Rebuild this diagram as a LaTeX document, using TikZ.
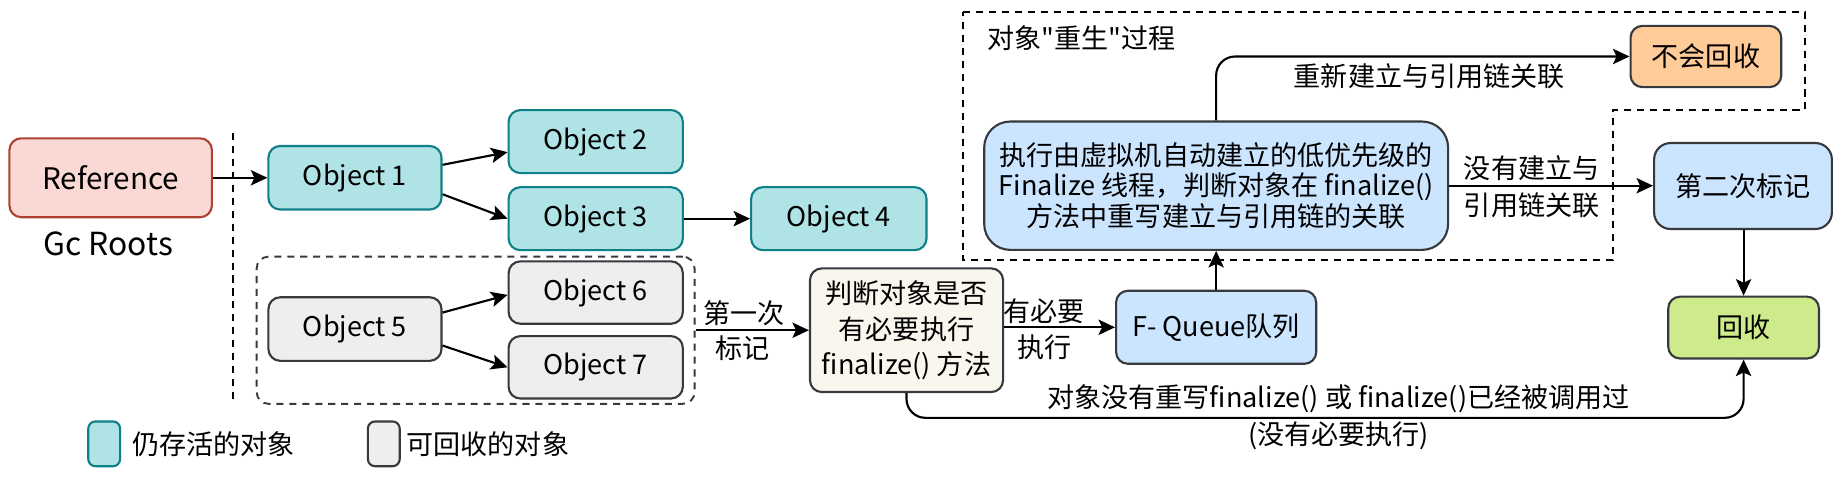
\documentclass[tikz,border=0pt]{standalone}
\usepackage{fontspec}
\setmainfont{Noto Sans CJK SC}
\font\qfnt="Noto Sans CJK SC" at 11.5pt
\usetikzlibrary{arrows.meta}
\definecolor{tealfill}{HTML}{B0E3E6}
\definecolor{tealdraw}{HTML}{0E8088}
\definecolor{redfill}{HTML}{FAD9D5}
\definecolor{reddraw}{HTML}{AE4132}
\definecolor{greyfill}{HTML}{EEEEEE}
\definecolor{darkdraw}{HTML}{36393D}
\definecolor{bluefill}{HTML}{CCE5FF}
\definecolor{creamfill}{HTML}{F9F7ED}
\definecolor{orangefill}{HTML}{FFCC99}
\definecolor{greenfill}{HTML}{CDEB8B}
\begin{document}
\begin{tikzpicture}[x=0.5pt,y=-0.5pt,
  font=\fontsize{11.5}{14}\selectfont,
  box/.style={draw=darkdraw, line width=0.9pt, rounded corners=5pt, align=center, inner sep=0pt},
  alive/.style={box, fill=tealfill, draw=tealdraw},
  dead/.style={box, fill=greyfill, draw=darkdraw},
  arr/.style={-{Stealth[length=7pt,width=6.5pt,inset=1.5pt]}, line width=0.9pt},
  lbl/.style={inner sep=1pt, align=center},
  dashline/.style={line width=0.8pt, dash pattern=on 3pt off 2.5pt}]
\useasboundingbox (0,0) rectangle (1568,406);

% left part
\node[box, fill=redfill, draw=reddraw, minimum width=86pt, minimum height=33.5pt, font=\fontsize{12.6}{14}\selectfont] (ref) at (94,151) {Reference};
\node[lbl, font=\fontsize{13.5}{15}\selectfont] (gc) at (92,207) {Gc Roots};
\coordinate (vtop) at (198,113);
\coordinate (vbot) at (198,340);
\draw[dashline] (vtop) -- (vbot);

\node[alive, minimum width=73.5pt, minimum height=27pt] (o1) at (301.5,151) {Object 1};
\node[alive, minimum width=74pt, minimum height=26.75pt] (o2) at (506,120.25) {Object 2};
\node[alive, minimum width=74pt, minimum height=26.75pt] (o3) at (506,185.75) {Object 3};
\node[alive, minimum width=74.5pt, minimum height=26.75pt] (o4) at (712.5,185.75) {Object 4};

\node[box, dashline, rounded corners=5pt, minimum width=186pt, minimum height=62.5pt] (dbox) at (404,280.5) {};
\node[dead, minimum width=73.5pt, minimum height=27pt] (o5) at (301.5,279.5) {Object 5};
\node[dead, minimum width=74pt, minimum height=26.5pt] (o6) at (506,248.5) {Object 6};
\node[dead, minimum width=74pt, minimum height=26.5pt] (o7) at (506,312) {Object 7};

\draw[arr] (ref.east) -- (o1.west);
\draw[arr] ([yshift=5.5pt]o1.east) -- ([yshift=-4.5pt]o2.west);
\draw[arr] ([yshift=-7pt]o1.east) -- ([yshift=0pt]o3.west);
\draw[arr] (o3.east) -- (o4.west);
\draw[arr] ([yshift=7pt]o5.east) -- ([yshift=-1pt]o6.west);
\draw[arr] ([yshift=-7pt]o5.east) -- ([yshift=0pt]o7.west);

% middle
\node[box, fill=creamfill, minimum width=82pt, minimum height=52.5pt, font=\fontsize{11.5}{15}\selectfont] (judge) at (770,280.5) {判断对象是否\\有必要执行\\finalize() 方法};
\node[box, fill=bluefill, minimum width=85pt, minimum height=31pt] (fq) at (1033,278) {F- Queue队列};
\draw[arr] (judge.west -| dbox.east) -- (judge.west);
\node[lbl] (l1a) at (632,266) {第一次};
\node[lbl] (l1b) at (631,296) {标记};
\draw[arr] (judge.east |- fq.west) -- (fq.west);
\node[lbl] (l2a) at (887,264) {有必要};
\node[lbl] (l2b) at (887,295) {执行};

% rebirth region
\coordinate (r1) at (818,10);
\coordinate (r2) at (1533,10);
\coordinate (r3) at (1533,93.5);
\coordinate (r4) at (1370,93.5);
\coordinate (r5) at (1370,221);
\coordinate (r6) at (818,221);
\draw[dashline] (r1) -- (r2) -- (r3) -- (r4) -- (r5) -- (r6) -- cycle;
\node[lbl, anchor=west] (title) at (836,32) {对象{\qfnt"}重生{\qfnt"}过程};

\node[box, fill=bluefill, rounded corners=11pt, minimum width=197pt, minimum height=54.5pt, font=\fontsize{11.5}{13}\selectfont] (exec) at (1033,157.75) {执行由虚拟机自动建立的低优先级的\\Finalize 线程，判断对象在 finalize()\\方法中重写建立与引用链的关联};
\node[box, fill=orangefill, minimum width=64pt, minimum height=26pt] (nohui) at (1449,48) {不会回收};
\node[box, fill=bluefill, rounded corners=7pt, minimum width=75.5pt, minimum height=36.5pt] (second) at (1480.5,158) {第二次标记};
\node[box, fill=greenfill, minimum width=64pt, minimum height=26.25pt] (hui) at (1481,278.25) {回收};

\draw[arr] (fq.north) -- (exec.south);
\draw[arr, rounded corners=8pt] (exec.north) |- (nohui.west);
\node[lbl] (l3) at (1214,65) {重新建立与引用链关联};
\draw[arr] (exec.east) -- (second.west |- exec.east);
\node[lbl] (l4a) at (1301,143) {没有建立与};
\node[lbl] (l4b) at (1301,174) {引用链关联};
\draw[arr] (second.south -| hui.north) -- (hui.north);
\draw[arr, rounded corners=8pt] (judge.south) -- ++(0,21) -| (hui.south);
\node[lbl] (l5a) at (1137,338.5) {对象没有重写finalize() 或 finalize()已经被调用过};
\node[lbl] (l5b) at (1137,370) {(没有必要执行)};

% legend
\node[alive, rounded corners=3pt, minimum width=13.5pt, minimum height=19pt] (lg1) at (88.5,377) {};
\node[lbl, anchor=west] (lt1) at (110,377) {仍存活的对象};
\node[dead, rounded corners=3pt, minimum width=13.5pt, minimum height=19pt] (lg2) at (326,377) {};
\node[lbl, anchor=west] (lt2) at (343,377) {可回收的对象};
\end{tikzpicture}
\end{document}
